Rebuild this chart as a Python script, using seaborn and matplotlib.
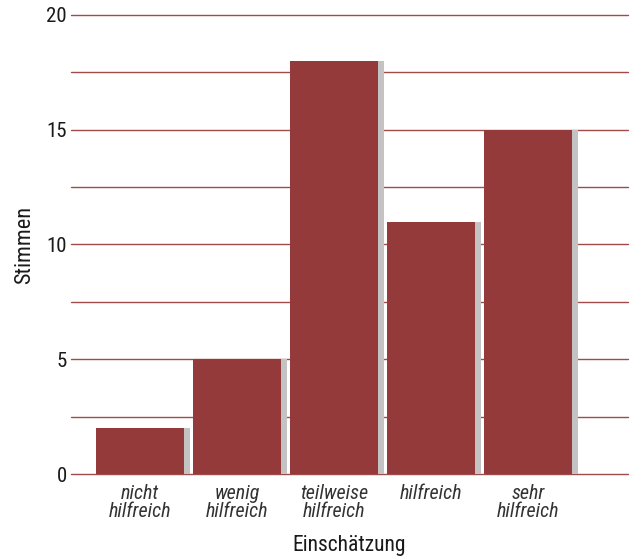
import matplotlib
matplotlib.use("Agg")
import matplotlib.pyplot as plt
import matplotlib.transforms as mtransforms
from matplotlib import font_manager
import seaborn as sns
import pandas as pd

categories = ["nicht\nhilfreich", "wenig\nhilfreich", "teilweise\nhilfreich", "hilfreich", "sehr\nhilfreich"]
votes = [2, 5, 18, 11, 15]
y_ticks = [0, 5, 10, 15, 20]
grid_levels = [0, 2.5, 5, 7.5, 10, 12.5, 15, 17.5, 20]

sns.set_theme(style="white")
available = {f.name for f in font_manager.fontManager.ttflist}
family = [f for f in ["Liberation Sans Narrow", "Roboto Condensed", "Roboto", "DejaVu Sans"] if f in available]
plt.rcParams["font.family"] = family

BAR = "#943a3a"
SHADOW = "#c3c3c3"
GRID = "#a04a4a"

df = pd.DataFrame({"Einschätzung": categories, "Stimmen": votes})

fig = plt.figure(figsize=(6.36, 5.6), dpi=100)
ax = fig.add_axes([71 / 636, 86 / 560, (628 - 71) / 636, (474 - 15) / 560])

for g in grid_levels:
    ax.axhline(g, color=GRID, lw=1.0, zorder=0, clip_on=False)

# shadow bars, shifted right by a few points
sns.barplot(data=df, x="Einschätzung", y="Stimmen", color=SHADOW, width=0.9,
            saturation=1, ax=ax, zorder=1)
shadow_patches = list(ax.patches)
shift = mtransforms.offset_copy(ax.transData, fig=fig, x=4.5, y=0, units="points")
for p in shadow_patches:
    p.set_transform(shift)
    p.set_edgecolor("none")

sns.barplot(data=df, x="Einschätzung", y="Stimmen", color=BAR, width=0.9,
            saturation=1, ax=ax, zorder=2)
for p in ax.patches[len(shadow_patches):]:
    p.set_edgecolor("none")

ax.set_xlim(-0.71, 5.03)
ax.set_ylim(0, 20)
ax.set_yticks(y_ticks)
ax.set_yticklabels([str(t) for t in y_ticks], fontsize=15, color="#1a1a1a")
ax.tick_params(axis="y", length=0, pad=3)
ax.tick_params(axis="x", length=0, pad=7)
for lab in ax.get_xticklabels():
    lab.set_fontstyle("italic")
    lab.set_fontsize(14.5)
    lab.set_color("#333333")
    lab.set_linespacing(0.98)

for s in ax.spines.values():
    s.set_visible(False)

ax.set_xlabel("Einschätzung", fontsize=15.5, color="#1a1a1a", labelpad=10)
ax.set_ylabel("Stimmen", fontsize=16, color="#1a1a1a", labelpad=8)

fig.savefig("out.png", dpi=100)
